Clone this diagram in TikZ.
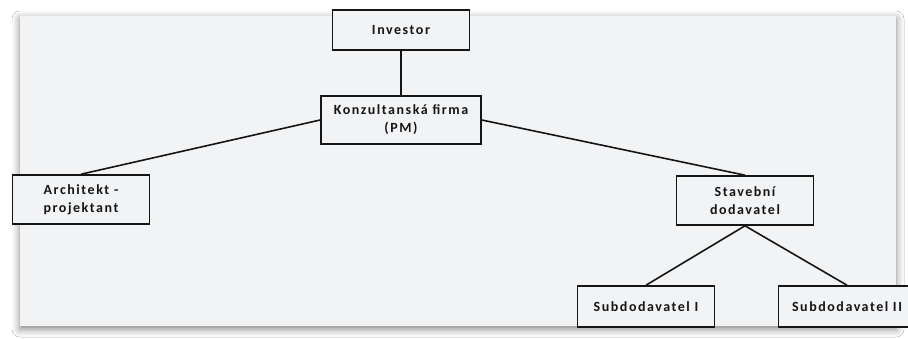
\documentclass[tikz,border=0pt]{standalone}
\usepackage{fontspec}
\setmainfont{Carlito}[LetterSpace=11]
\usetikzlibrary{shadows.blur}
\definecolor{panel}{HTML}{F2F3F5}
\definecolor{ink}{HTML}{151515}
\begin{document}
\begin{tikzpicture}[x=1pt,y=-1pt,
  orgbox/.style={draw=ink, line width=1.6pt, fill=panel, minimum width=137pt,
    minimum height=40pt, align=center, inner sep=0pt, font=\bfseries\fontsize{14}{18}\selectfont, text=ink},
  link/.style={draw=ink, line width=1.6pt}]
  \useasboundingbox (0,0) rectangle (908,338);
  \clip (0,0) rectangle (908,338);
  \fill[white] (0,0) rectangle (908,338);
  % grey panel behind the chart
  \fill[panel, blur shadow={shadow xshift=0pt, shadow yshift=-3pt, shadow blur radius=8pt, shadow opacity=50}]
    (20,16) rectangle (896,326);

  \node[orgbox] (inv) at (401,30) {Investor};
  \node[orgbox, minimum width=160pt, minimum height=48pt] (pm) at (401,120) {Konzultanská firma\\(PM)};
  \node[orgbox, minimum height=49pt] (arch) at (81,199.5) {Architekt -\\projektant};
  \node[orgbox, minimum height=49pt] (stav) at (745,200.5) {Stavební\\dodavatel};
  \node[orgbox, minimum height=41pt] (sub1) at (646,306.5) {Subdodavatel I};
  \node[orgbox, minimum height=41pt] (sub2) at (847,306.5) {Subdodavatel II};

  \draw[link] (inv.south) -- (pm.north);
  \draw[link] (pm.west) -- (arch.north);
  \draw[link] (pm.east) -- (stav.north);
  \draw[link] (stav.south) -- (sub1.north);
  \draw[link] (stav.south) -- (sub2.north);
\end{tikzpicture}
\end{document}
